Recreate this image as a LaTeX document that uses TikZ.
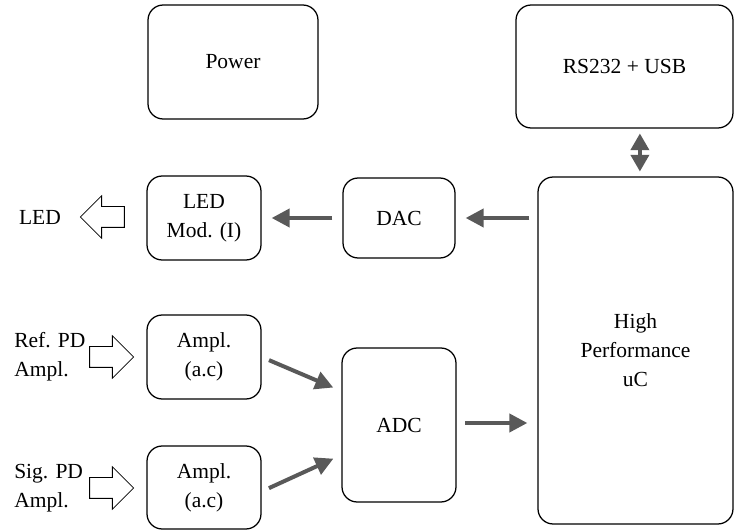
\documentclass[tikz,border=0pt]{standalone}
\usepackage{fontspec}
\setmainfont{Liberation Serif}
\usetikzlibrary{arrows.meta,shapes.arrows}
\definecolor{arrowgray}{HTML}{595959}

\begin{document}
\begin{tikzpicture}[
    block/.style={draw, rounded corners=0.38cm, line width=0.9pt, align=center, font=\fontsize{15.3}{20.6}\selectfont},
    lbl/.style={align=left, font=\fontsize{15.3}{20.6}\selectfont, inner sep=0pt},
    flow/.style={draw=arrowgray, line width=0.1cm, -{Triangle[length=0.45cm,width=0.45cm]}},
    hollow/.style={single arrow, draw, line width=0.6pt, inner xsep=0pt, inner ysep=0.25cm, minimum height=1.1cm, single arrow head extend=0.27cm},
]
    \useasboundingbox (0,0) rectangle (18.375,13.275);

    % Top row
    \node[block, minimum width=4.25cm, minimum height=2.85cm] (power) at (5.825, 11.725) {Power};
    \node[block, minimum width=5.425cm, minimum height=3.075cm] (rs) at (15.6125, 11.6125) {RS232 + USB};

    % Controller
    \node[block, minimum width=4.875cm, minimum height=8.675cm] (uc) at (15.8875, 4.5125) {High\\Performance\\uC};

    % LED branch
    \node[block, minimum width=2.8cm, minimum height=2.0cm] (dac) at (9.975, 7.825) {DAC};
    \node[block, minimum width=2.85cm, minimum height=2.1cm] (ledmod) at (5.1, 7.825) {LED\\Mod. (I)};
    \node[hollow, shape border rotate=180] (ledarr) at (2.69, 7.85) {};
    \node[lbl] (led) at (1.0, 7.85) {LED};

    % Detector branch
    \node[block, minimum width=2.85cm, minimum height=2.1cm] (ampref) at (5.1, 4.35) {Ampl.\\(a.c)};
    \node[block, minimum width=2.85cm, minimum height=2.075cm] (ampsig) at (5.1, 1.0875) {Ampl.\\(a.c)};
    \node[block, minimum width=2.85cm, minimum height=3.85cm] (adc) at (9.975, 2.65) {ADC};
    \node[hollow] (refarr) at (2.66, 4.35) {};
    \node[hollow] (sigarr) at (2.66, 1.075) {};
    \node[lbl, anchor=west] (reflbl) at (0.35, 4.35) {Ref. PD\\Ampl.};
    \node[lbl, anchor=west] (siglbl) at (0.35, 1.075) {Sig. PD\\Ampl.};

    % Arrows
    \draw[flow, {Triangle[length=0.42cm,width=0.45cm]}-{Triangle[length=0.42cm,width=0.45cm]}, shorten <=0.12cm, shorten >=0.12cm]
        ([xshift=0.11cm]uc.north) -- ([xshift=0.11cm]uc.north |- rs.south);
    \draw[flow, shorten <=0.2cm, shorten >=0.25cm] (uc.west |- dac.east) -- (dac.east);
    \draw[flow, shorten <=0.25cm, shorten >=0.25cm] (dac) -- (ledmod);
    \draw[flow, shorten <=0.2cm, shorten >=0.22cm] (ampref.east) -- ([yshift=0.85cm]adc.west);
    \draw[flow, shorten <=0.2cm, shorten >=0.22cm] ([yshift=-0.1cm]ampsig.east) -- ([yshift=-0.75cm]adc.west);
    \draw[flow, shorten <=0.22cm, shorten >=0.25cm] ([yshift=0.05cm]adc.east) -- ([yshift=0.05cm]uc.west |- adc.east);
\end{tikzpicture}
\end{document}
